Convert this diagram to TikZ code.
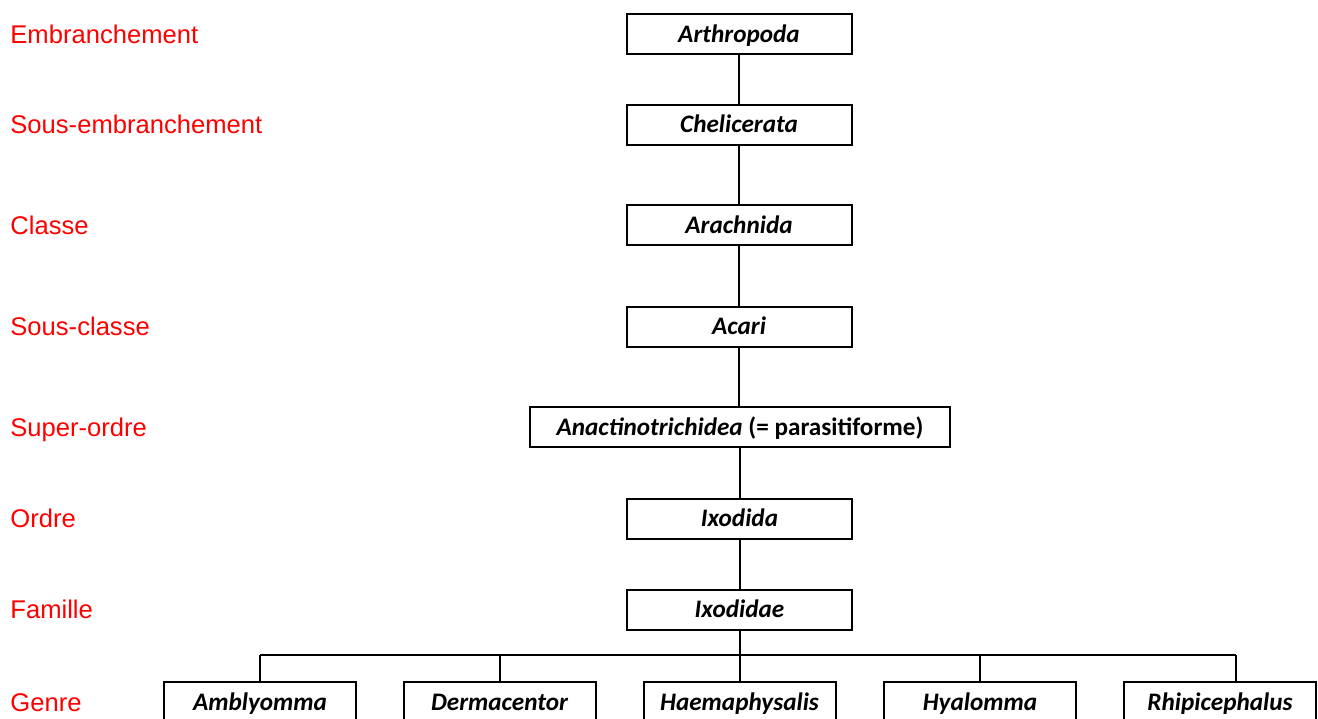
\documentclass[tikz,border=0pt]{standalone}
\usepackage{fontspec}
\setmainfont{Carlito}
\newfontfamily\rankfont{Liberation Sans}
\begin{document}
\begin{tikzpicture}[x=0.5pt,y=-0.5pt,
  taxon/.style={draw, line width=1pt, minimum width=112.5pt, minimum height=20pt,
    inner sep=0pt, text height=10pt, text depth=2pt,
    font=\fontsize{12.6}{14}\selectfont\bfseries\itshape},
  genus/.style={taxon, minimum width=96pt},
  rank/.style={anchor=west, inner sep=0pt, text=red, text height=9.5pt, text depth=0.5pt,
    font=\rankfont\fontsize{12.8}{14}\selectfont},
  link/.style={line width=1pt}]

  \useasboundingbox (0,0) rectangle (1318,718);

  %% ranks
  \node[rank] (rEmb)  at (10, 34)  {Embranchement};
  \node[rank] (rSemb) at (10,124.5){Sous-embranchement};
  \node[rank] (rCla)  at (10,225)  {Classe};
  \node[rank] (rScla) at (10,326.5){Sous-classe};
  \node[rank] (rSord) at (10,427)  {Super-ordre};
  \node[rank] (rOrd)  at (10,518.5){Ordre};
  \node[rank] (rFam)  at (10,609.5){Famille};
  \node[rank] (rGen)  at (10,702)  {Genre};

  %% main chain
  \node[taxon] (arthro) at (739, 34)   {Arthropoda};
  \node[taxon] (cheli)  at (739,124.5) {Chelicerata};
  \node[taxon] (arach)  at (739,225)   {Arachnida};
  \node[taxon] (acari)  at (739,326.5) {Acari};
  \node[taxon, minimum width=210pt] (anact) at (740,427)
    {Anactinotrichidea\textup{ (= parasitiforme)}};
  \node[taxon] (ixoda)  at (739.5,518.5) {Ixodida};
  \node[taxon] (ixodae) at (739.5,609.5) {Ixodidae};

  \draw[link] (arthro) -- (cheli);
  \draw[link] (cheli) -- (arach);
  \draw[link] (arach) -- (acari);
  \draw[link] (acari) -- (acari |- anact.north);
  \draw[link] (ixoda |- anact.south) -- (ixoda);
  \draw[link] (ixoda) -- (ixodae);

  %% genera
  \node[genus] (ambly) at (260,702)  {Amblyomma};
  \node[genus] (derma) at (499.5,702){Dermacentor};
  \node[genus] (haema) at (739.5,702){Haemaphysalis};
  \node[genus] (hyalo) at (980,702)  {Hyalomma};
  \node[genus] (rhipi) at (1220,702) {Rhipicephalus};

  \coordinate (bus) at (739.5,655);
  \coordinate (busL) at (260,655);
  \coordinate (busR) at (1236,655);
  \coordinate (rhipiTop) at (1236,682);

  \draw[link] (ixodae) -- (haema);
  \draw[link] (busL) -- (busR);
  \draw[link] (busL) -- (ambly);
  \draw[link] (derma.north |- bus) -- (derma);
  \draw[link] (hyalo.north |- bus) -- (hyalo);
  \draw[link] (busR) -- (rhipiTop);

\end{tikzpicture}
\end{document}
